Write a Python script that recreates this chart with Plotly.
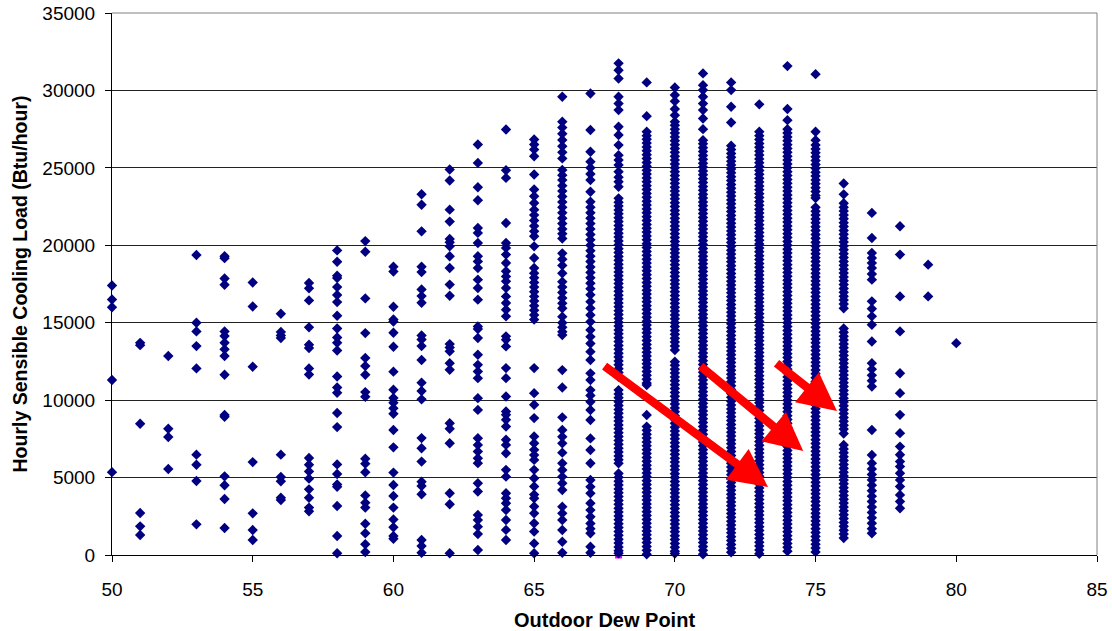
import plotly.graph_objects as go

# ---- data: outdoor dew point (x) and hourly sensible cooling load (y, Btu/hour) ----
dew_points = list(range(50, 81))

dp50 = [17400, 16500, 16000, 11300, 5350]
dp51 = [13700, 13550, 8480, 2710, 1850, 1290]
dp52 = [12850, 8150, 7620, 5550]
dp53 = [19370, 15000, 14440, 13490, 12050, 6480, 5830, 4780, 1980]
dp54 = [19300, 19170, 17860, 17450, 14440, 14140, 13710, 13280, 12850, 11640, 9040, 8930, 5080, 4500, 3620, 1740]
dp55 = [17600, 16050, 12160, 6000, 2690, 1610, 970]
dp56 = [15580, 14400, 14180, 14010, 6480, 5040, 4760, 3700, 3550]
dp57 = [17560, 17220, 16440, 14700, 13580, 13360, 12050, 11660, 6260, 5830, 5400, 4930, 4240, 3700, 3060, 2820]
dp58 = [19670, 18940, 18030, 17880, 17300, 16790, 16330, 15450, 14630, 14050, 13710, 13210, 11530, 10820,
        10480, 9170, 8260, 5850, 5230, 4560, 4410, 3160, 1230, 110]
dp59 = [20270, 19580, 16570, 14330, 12720, 12200, 11640, 10520, 10220, 6220, 5900, 5340, 3850, 3380, 3060,
        2020, 1400, 690, 190]
dp60 = [18620, 18310, 16030, 15210, 15080, 14350, 13450, 11840, 10670, 10140, 9830, 9470, 9120, 8070, 6950,
        5320, 4520, 3810, 3060, 2300, 1790, 1230, 1050]
dp61 = [23300, 22620, 20900, 18620, 18270, 17150, 16720, 16290, 14180, 13920, 13490, 12590, 11130, 10590,
        10050, 7550, 6890, 6030, 4730, 4460, 3920, 970, 580, 150]
dp62 = [24890, 24180, 22300, 21530, 20410, 20190, 19930, 19290, 18530, 17460, 16740, 13620, 13400, 13150,
        12390, 11960, 8510, 8150, 7220, 3990, 3280, 110]
dp63 = [26510, 25320, 23750, 22910, 21120, 20800, 20150, 19290, 18960, 18530, 17780, 17240, 16490, 14760,
        14590, 14010, 12930, 12280, 11850, 11420, 10130, 9370, 7540, 7110, 6680, 6250, 5930, 4630, 4100,
        2590, 2260, 1830, 1360, 320]
dp64 = [27480, 24850, 24350, 21440, 20150, 19830, 19400, 18860, 18320, 17990, 17670, 17240, 16700, 16270,
        15840, 15410, 14120, 13900, 13470, 12070, 11420, 10240, 9270, 9050, 8730, 8300, 7440, 7110, 6570,
        5500, 5060, 3990, 3660, 3340, 2910, 2260, 1620, 970]
dp65 = [26830, 26510, 26180, 25750, 24570, 23600, 23170, 22730, 22300, 21950, 21600, 21250, 20900, 20580,
        19930, 19180, 18530, 18200, 17900, 17600, 17300, 17000, 16700, 16400, 16100, 15800, 15500, 15200,
        12070, 10450, 9700, 8840, 7650, 7220, 6790, 6450, 6140, 5500, 4960, 4420, 3900, 3660, 3130, 2690,
        2050, 1510, 750, 110]
dp66 = [29590, 27980, 27600, 27200, 26800, 26400, 26000, 25610, 24860, 24530, 24210, 23850, 23500, 23150,
        22800, 22450, 22100, 21750, 21400, 21050, 20750, 20440, 19480, 19100, 18700, 18190, 17650, 17300,
        16950, 16600, 16250, 15930, 15390, 15000, 14700, 14420, 14200, 11940, 10820, 8890, 8070, 7640, 7210,
        6610, 5920, 5490, 5060, 4630, 4200, 3120, 2690, 2260, 1610, 860, 150]
dp67 = [29800, 27440, 26040, 25400, 25000, 24600, 24210, 23460, 22810, 22450, 22100, 21750, 21400, 21050,
        20700, 20350, 20000, 19650, 19300, 18950, 18600, 18250, 17900, 17550, 17200, 16800, 16360, 15930,
        15500, 15060, 14530, 14100, 13660, 13130, 12590, 11730, 11300, 10650, 10300, 9900, 9360, 8720, 7530,
        6780, 5920, 4840, 4400, 3980, 3340, 2900, 2470, 2040, 1700, 1400, 540, 150]
dp68 = [31750, 31300, 30770, 29590, 29150, 28730, 27650, 27120, 26470, 25820, 25500, 25180, 24750, 24400,
        24100, 23780, 23030, 22780, 22530, 22280, 22030, 21780, 21530, 21280, 21030, 20780, 20530, 20280,
        20030, 19780, 19530, 19280, 19030, 18780, 18530, 18280, 18030, 17780, 17530, 17280, 17030, 16780,
        16530, 16280, 16030, 15780, 15530, 15280, 15030, 14780, 14530, 14280, 14030, 13780, 13530, 13280,
        13030, 12780, 12530, 12280, 12030, 11780, 11510, 10650, 10400, 10150, 9900, 9650, 9400, 9150, 8900,
        8650, 8400, 8150, 7900, 7650, 7400, 7150, 6900, 6650, 6400, 6150, 5920, 5270, 5020, 4770, 4520, 4270,
        4020, 3770, 3520, 3270, 3020, 2770, 2520, 2270, 2020, 1770, 1520, 1270, 1020, 770, 520, 270, 110]
dp69 = [30520, 28340, 27330, 27080, 26850, 26600, 26350, 26100, 25850, 25600, 25350, 25100, 24850, 24600,
        24350, 24100, 23850, 23600, 23350, 23100, 22850, 22600, 22350, 22100, 21850, 21600, 21350, 21100,
        20850, 20600, 20350, 20100, 19850, 19600, 19350, 19100, 18850, 18600, 18350, 18100, 17850, 17600,
        17350, 17100, 16850, 16600, 16350, 16100, 15850, 15600, 15350, 15100, 14850, 14600, 14350, 14100,
        13850, 13600, 13350, 13100, 12850, 12600, 12350, 12100, 11850, 11600, 11350, 11100, 10980, 9040,
        8290, 8050, 7800, 7550, 7300, 7050, 6800, 6550, 6300, 6050, 5800, 5550, 5300, 5050, 4800, 4550, 4300,
        4050, 3800, 3550, 3300, 3050, 2800, 2550, 2300, 2050, 1800, 1550, 1300, 1050, 800, 550, 300, 50]
dp70 = [30190, 29700, 29300, 28800, 28400, 27980, 27750, 27500, 27250, 27000, 26750, 26500, 26250, 26000,
        25750, 25500, 25250, 25000, 24750, 24500, 24250, 24000, 23750, 23500, 23250, 23000, 22750, 22500,
        22250, 22000, 21750, 21500, 21250, 21000, 20750, 20500, 20250, 20000, 19750, 19500, 19250, 19000,
        18750, 18500, 18250, 18000, 17750, 17500, 17250, 17000, 16750, 16500, 16250, 16000, 15750, 15500,
        15250, 15000, 14750, 14500, 14250, 14000, 13750, 13500, 13230, 12480, 12250, 12000, 11750, 11500,
        11250, 11000, 10750, 10500, 10250, 10000, 9750, 9500, 9250, 9000, 8750, 8500, 8250, 8000, 7750, 7500,
        7250, 7000, 6750, 6500, 6250, 6000, 5750, 5500, 5250, 5000, 4750, 4500, 4250, 4000, 3750, 3500, 3250,
        3000, 2750, 2500, 2250, 2000, 1750, 1500, 1250, 1000, 750, 500, 250, 100]
dp71 = [31100, 30340, 30020, 29590, 29150, 28730, 28190, 27500, 26790, 26550, 26300, 26050, 25800, 25550,
        25300, 25050, 24800, 24550, 24300, 24050, 23800, 23550, 23300, 23050, 22800, 22550, 22300, 22050,
        21800, 21550, 21300, 21050, 20800, 20550, 20300, 20050, 19800, 19550, 19300, 19050, 18800, 18550,
        18300, 18050, 17800, 17550, 17300, 17050, 16800, 16550, 16300, 16050, 15800, 15550, 15300, 15050,
        14800, 14550, 14300, 14050, 13800, 13550, 13300, 13050, 12800, 12550, 12300, 12050, 11800, 11550,
        11300, 11050, 10800, 10550, 10300, 10050, 9800, 9550, 9300, 9050, 8800, 8550, 8300, 8050, 7800, 7550,
        7300, 7050, 6800, 6550, 6300, 6050, 5800, 5550, 5300, 5050, 4800, 4550, 4300, 4050, 3800, 3550, 3300,
        3050, 2800, 2550, 2300, 2050, 1800, 1550, 1300, 1050, 800, 550, 300, 50]
dp72 = [30520, 30020, 28950, 27930, 26430, 26180, 25930, 25680, 25430, 25180, 24930, 24680, 24430, 24180,
        23930, 23680, 23430, 23180, 22930, 22680, 22430, 22180, 21930, 21680, 21430, 21180, 20930, 20680,
        20430, 20180, 19930, 19680, 19430, 19180, 18930, 18680, 18430, 18180, 17930, 17680, 17430, 17180,
        16930, 16680, 16430, 16180, 15930, 15680, 15430, 15180, 14930, 14680, 14430, 14180, 13930, 13680,
        13430, 13180, 12930, 12680, 12430, 12180, 11930, 11680, 11430, 11180, 10930, 10680, 10430, 10180,
        9930, 9680, 9430, 9180, 8930, 8680, 8430, 8180, 7930, 7680, 7430, 7180, 6930, 6680, 6430, 6180, 5930,
        5680, 5430, 5180, 4930, 4680, 4430, 4180, 3930, 3680, 3430, 3180, 2930, 2680, 2430, 2180, 1930, 1680,
        1430, 1180, 930, 680, 430, 180]
dp73 = [29100, 27330, 27080, 26830, 26580, 26330, 26080, 25830, 25580, 25330, 25080, 24830, 24580, 24330,
        24080, 23830, 23580, 23330, 23080, 22830, 22580, 22330, 22080, 21830, 21580, 21330, 21080, 20830,
        20580, 20330, 20080, 19830, 19580, 19330, 19080, 18830, 18580, 18330, 18080, 17830, 17580, 17330,
        17080, 16830, 16580, 16330, 16080, 15830, 15580, 15330, 15080, 14830, 14580, 14330, 14080, 13830,
        13580, 13330, 13080, 12830, 12580, 12330, 12080, 11830, 11580, 11330, 11080, 10830, 10580, 10330,
        10080, 9830, 9580, 9330, 9080, 8830, 8580, 8330, 8080, 7830, 7580, 7330, 7080, 6830, 6580, 6330, 6080,
        5830, 5580, 5330, 5080, 4830, 4580, 4330, 4080, 3830, 3580, 3330, 3080, 2830, 2580, 2330, 2080, 1830,
        1580, 1330, 1080, 830, 580, 330, 80]
dp74 = [31570, 28800, 28080, 27500, 27250, 27000, 26750, 26500, 26250, 26000, 25750, 25500, 25250, 25000,
        24750, 24500, 24250, 24000, 23750, 23500, 23250, 23000, 22750, 22500, 22250, 22000, 21750, 21500,
        21250, 21000, 20750, 20500, 20250, 20000, 19750, 19500, 19250, 19000, 18750, 18500, 18250, 18000,
        17750, 17500, 17250, 17000, 16750, 16500, 16250, 16000, 15750, 15500, 15250, 15000, 14750, 14500,
        14250, 14000, 13750, 13500, 13250, 13000, 12750, 12500, 12250, 12000, 11750, 11500, 11250, 11000,
        10750, 10500, 10250, 10000, 9750, 9500, 9250, 9000, 8750, 8500, 8250, 8000, 7750, 7500, 7250, 7000,
        6750, 6500, 6250, 6000, 5750, 5500, 5250, 5000, 4750, 4500, 4250, 4000, 3750, 3500, 3250, 3000, 2750,
        2500, 2250, 2000, 1750, 1500, 1250, 1000, 750, 500, 250]
dp75 = [31050, 27330, 26790, 26470, 26220, 25970, 25720, 25470, 25220, 24970, 24720, 24470, 24220, 23970,
        23720, 23470, 23220, 23050, 22450, 22200, 21950, 21700, 21450, 21200, 20950, 20700, 20450, 20200,
        19950, 19700, 19450, 19200, 18950, 18700, 18450, 18200, 17950, 17700, 17450, 17200, 16950, 16700,
        16450, 16200, 15950, 15700, 15450, 15200, 14950, 14700, 14450, 14200, 13950, 13700, 13450, 13200,
        12950, 12700, 12450, 12200, 11950, 11700, 11450, 11200, 10950, 10700, 10450, 10200, 9950, 9700, 9450,
        9200, 8950, 8700, 8450, 8200, 7950, 7700, 7450, 7200, 6950, 6700, 6450, 6200, 5950, 5700, 5450, 5200,
        4950, 4700, 4450, 4200, 3950, 3700, 3450, 3200, 2950, 2700, 2450, 2200, 1950, 1700, 1450, 1200, 950,
        700, 450, 200]
dp76 = [23990, 23290, 22710, 22460, 22210, 21960, 21710, 21460, 21210, 20960, 20710, 20460, 20210, 19960,
        19710, 19460, 19210, 18960, 18710, 18460, 18210, 17960, 17710, 17460, 17210, 16960, 16710, 16460,
        16210, 15930, 14630, 14380, 14130, 13880, 13630, 13380, 13130, 12880, 12630, 12380, 12130, 11880,
        11630, 11380, 11130, 10880, 10630, 10380, 10130, 9880, 9630, 9380, 9130, 8880, 8630, 8380, 8130,
        7850, 7100, 6850, 6600, 6350, 6100, 5850, 5600, 5350, 5100, 4850, 4600, 4350, 4100, 3850, 3600, 3350,
        3100, 2850, 2600, 2350, 2100, 1850, 1600, 1350, 1100]
dp77 = [22090, 20470, 19500, 19180, 18860, 18530, 18150, 17780, 16380, 15900, 15410, 14870, 13790, 12390,
        12000, 11600, 11250, 10880, 8070, 6460, 5920, 5550, 5200, 4850, 4500, 4150, 3800, 3450, 3100, 2750,
        2400, 2050, 1700, 1400]
dp78 = [21230, 19400, 16700, 14440, 11740, 10450, 9050, 7870, 7000, 6470, 6030, 5710, 5280, 4850, 4420,
        3880, 3450, 3020]
dp79 = [18750, 16700]
dp80 = [13680]

columns = [dp50, dp51, dp52, dp53, dp54, dp55, dp56, dp57, dp58, dp59, dp60, dp61, dp62, dp63, dp64, dp65,
           dp66, dp67, dp68, dp69, dp70, dp71, dp72, dp73, dp74, dp75, dp76, dp77, dp78, dp79, dp80]

# secondary (magenta) series point
second_x = [68]
second_y = [0]

# arrows: (tail x, tail y, head x, head y) in data units
arrow_tail_x = [67.45, 70.86, 73.56]
arrow_tail_y = [12270, 12270, 12460]
arrow_head_x = [73.31, 74.56, 75.76]
arrow_head_y = [4390, 6715, 9300]

x_ticks = [50, 55, 60, 65, 70, 75, 80, 85]
y_ticks = [0, 5000, 10000, 15000, 20000, 25000, 30000, 35000]

xs, ys = [], []
for dp, col in zip(dew_points, columns):
    xs.extend([dp] * len(col))
    ys.extend(col)

fig = go.Figure()
fig.add_trace(go.Scatter(x=second_x, y=second_y, mode="markers",
                         marker=dict(symbol="square", size=7, color="#FF00FF"),
                         cliponaxis=False, hoverinfo="skip"))
fig.add_trace(go.Scatter(x=xs, y=ys, mode="markers",
                         marker=dict(symbol="diamond", size=8, color="#000080", line=dict(width=0)),
                         cliponaxis=False))

for tx, ty, hx, hy in zip(arrow_tail_x, arrow_tail_y, arrow_head_x, arrow_head_y):
    fig.add_annotation(x=hx, y=hy, ax=tx, ay=ty, xref="x", yref="y", axref="x", ayref="y",
                       showarrow=True, arrowhead=2, arrowsize=0.9, arrowwidth=8.5,
                       arrowcolor="#FF0000", text="")

font_family = "Liberation Sans, Arial, sans-serif"
fig.update_layout(
    width=1112, height=631,
    margin=dict(l=112, r=15, t=13, b=76, autoexpand=False),
    paper_bgcolor="white", plot_bgcolor="white",
    showlegend=False,
    font=dict(family=font_family, color="black", size=19),
    xaxis=dict(range=[50, 85], tickvals=x_ticks, ticks="outside", ticklen=6, tickcolor="black",
               showline=True, linecolor="black", linewidth=1, showgrid=False, zeroline=False,
               tickfont=dict(size=19), ticklabelstandoff=11, automargin=False, tickformat="d",
               title=dict(text="<b>Outdoor Dew Point</b>", font=dict(size=20), standoff=16)),
    yaxis=dict(range=[0, 35000], tickvals=y_ticks, ticks="outside", ticklen=6, tickcolor="black",
               showline=True, linecolor="black", linewidth=1, showgrid=True, gridcolor="#222222",
               gridwidth=1, zeroline=False, tickfont=dict(size=19), ticklabelstandoff=6,
               automargin=False, tickformat="d",
               title=dict(text="<b>Hourly Sensible Cooling Load (Btu/hour)</b>", font=dict(size=19.5),
                          standoff=9)),
    shapes=[
        dict(type="line", xref="paper", yref="paper", x0=0, x1=1, y0=1, y1=1,
             line=dict(color="#808080", width=1)),
        dict(type="line", xref="paper", yref="paper", x0=1, x1=1, y0=0, y1=1,
             line=dict(color="#808080", width=1)),
    ],
)

fig.write_html("out.html")
